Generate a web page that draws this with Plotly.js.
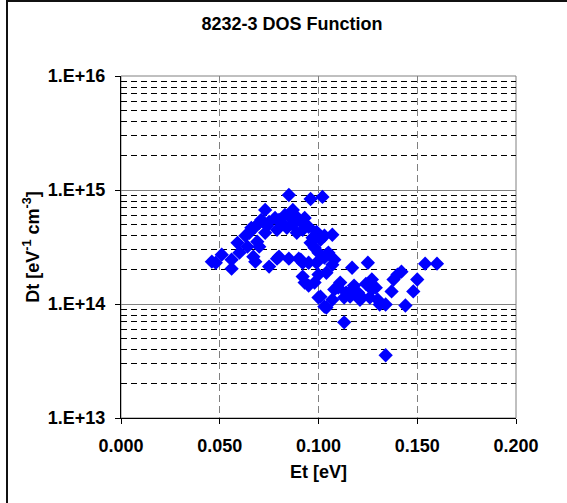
<!DOCTYPE html>
<html><head><meta charset="utf-8">
<script src="https://cdn.plot.ly/plotly-3.0.1.min.js"></script>
<style>html,body{margin:0;padding:0;background:#fff;overflow:hidden}#chart{width:567px;height:503px}</style>
</head><body><div id="chart"></div>
<script>
const energy = [0.046,0.048,0.051,0.056,0.056,0.060,0.059,0.064,0.066,0.069,0.067,0.070,0.071,0.068,0.075,0.079,0.080,0.085,0.090,0.091,0.095,0.092,0.073,0.085,0.096,0.102,0.087,0.068,0.070,0.073,0.075,0.079,0.080,0.084,0.086,0.089,0.091,0.095,0.097,0.099,0.098,0.074,0.078,0.082,0.087,0.092,0.083,0.088,0.093,0.101,0.103,0.063,0.065,0.107,0.104,0.108,0.100,0.105,0.107,0.100,0.093,0.098,0.100,0.104,0.108,0.096,0.092,0.099,0.103,0.095,0.104,0.117,0.125,0.111,0.117,0.101,0.103,0.107,0.114,0.122,0.127,0.127,0.113,0.130,0.129,0.110,0.113,0.121,0.126,0.131,0.134,0.144,0.134,0.142,0.140,0.138,0.150,0.148,0.137,0.154,0.160,0.118,0.120,0.116,0.124];
const dosE14 = [2.35,2.30,2.71,2.04,2.45,2.82,3.44,3.18,4.66,3.52,2.60,3.18,5.47,2.35,2.13,2.50,2.60,2.50,2.50,2.45,2.30,1.74,6.69,9.04,8.34,8.69,6.69,4.75,5.15,4.21,5.26,4.47,5.47,4.66,5.69,4.21,5.26,4.75,3.81,4.30,3.11,4.85,5.69,5.05,4.95,4.47,6.05,6.05,5.69,3.66,3.97,3.97,4.21,4.05,2.71,2.45,2.82,2.82,2.21,1.81,1.54,1.54,1.14,0.93,1.34,3.44,2.30,2.30,2.55,1.45,1.88,2.08,2.30,1.54,1.34,1.16,0.95,1.09,1.26,1.14,1.34,1.64,0.69,1.09,1.39,1.39,1.14,1.09,1.14,0.99,0.99,0.97,0.355,1.92,1.81,1.64,1.64,1.29,1.29,2.26,2.26,1.45,1.26,1.16,1.50];
const density = dosE14.map(v => v * 1e14);
const xTickVals = [0, 0.05, 0.1, 0.15, 0.2];
const xTickText = ['0.000', '0.050', '0.100', '0.150', '0.200'];
const yTickVals = [1e13, 1e14, 1e15, 1e16];
const yTickText = ['1.E+13', '1.E+14', '1.E+15', '1.E+16'];

const F = 'Liberation Sans, Arial, sans-serif';
const tf = {family: F, size: 18, color: '#000', weight: 'bold'};

Plotly.newPlot('chart', [{
  x: energy, y: density, type: 'scatter', mode: 'markers',
  marker: {symbol: 'diamond', size: 11, color: '#0000FF', line: {width: 0}},
  hoverinfo: 'skip'
}], {
  width: 567, height: 503,
  margin: {l: 121, r: 51, t: 76, b: 85},
  paper_bgcolor: '#fff', plot_bgcolor: '#fff',
  showlegend: false,
  title: {text: '<b>8232-3 DOS Function</b>', font: {family: F, size: 18, color: '#000'},
          xref: 'container', x: 0.515, xanchor: 'center', yref: 'container', y: 0.952, yanchor: 'middle'},
  xaxis: {
    range: [0, 0.2], tickmode: 'array', tickvals: xTickVals, ticktext: xTickText,
    showgrid: true, gridcolor: '#808080', griddash: '7px,4px', gridwidth: 1,
    zeroline: false, showline: true, linecolor: '#000', linewidth: 1,
    ticks: 'outside', ticklen: 5, tickcolor: '#000', tickfont: tf, ticklabelstandoff: 6,
    title: {text: '<b>Et [eV]</b>', font: {family: F, size: 18, color: '#000'}, standoff: 10}
  },
  yaxis: {
    type: 'log', range: [13, 16], tickmode: 'array', tickvals: yTickVals, ticktext: yTickText,
    showgrid: true, gridcolor: '#808080', gridwidth: 1,
    minor: {dtick: 'D1', showgrid: true, gridcolor: '#000', griddash: '6px,4px', gridwidth: 1, ticks: ''},
    zeroline: false, showline: true, linecolor: '#000', linewidth: 1,
    ticks: 'outside', ticklen: 5, tickcolor: '#000', tickfont: tf, ticklabelstandoff: 6,
    title: {text: '<b>Dt [eV<sup>-1</sup> cm<sup>-3</sup>]</b>', font: {family: F, size: 18, color: '#000'}, standoff: 3}
  },
  shapes: [
    {type: 'rect', xref: 'paper', yref: 'paper', x0: 0, x1: 1, y0: 0, y1: 1, line: {color: '#808080', width: 1}, layer: 'below'},
    {type: 'line', xref: 'paper', yref: 'paper', x0: -0.2886, x1: -0.2886, y0: 1.222, y1: -0.3, line: {color: '#111', width: 2}},
    {type: 'line', xref: 'paper', yref: 'paper', x0: -0.2886, x1: 1.2, y0: 1.219, y1: 1.219, line: {color: '#111', width: 2}}
  ]
}, {staticPlot: true, displayModeBar: false});
</script></body></html>
